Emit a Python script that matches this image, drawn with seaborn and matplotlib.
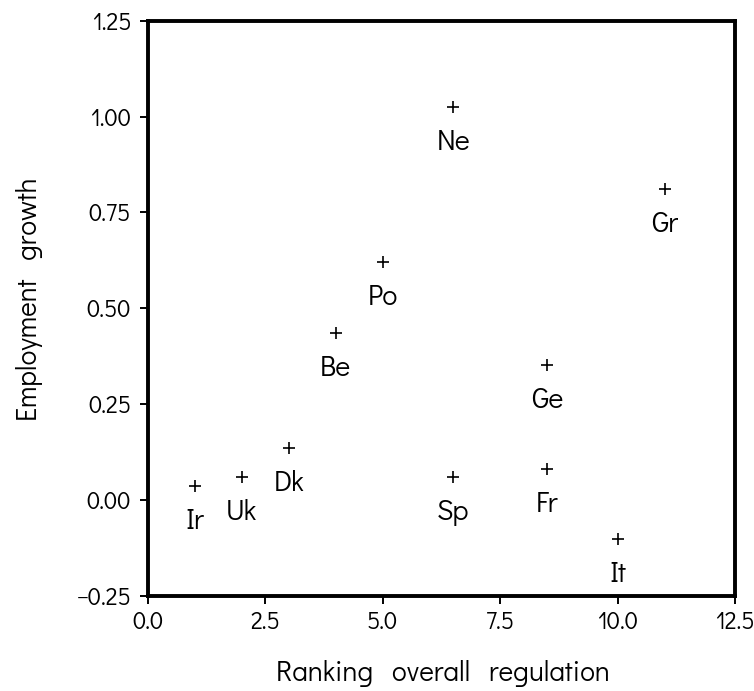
import matplotlib
matplotlib.use("Agg")
import matplotlib.pyplot as plt
import seaborn as sns
import pandas as pd

# data
countries = ["Ir", "Uk", "Dk", "Be", "Po", "Ne", "Sp", "Ge", "Fr", "It", "Gr"]
ranking = [1, 2, 3, 4, 5, 6.5, 6.5, 8.5, 8.5, 10, 11]
growth = [0.037, 0.061, 0.136, 0.437, 0.621, 1.026, 0.061, 0.353, 0.082, -0.101, 0.812]
x_ticks = [0.0, 2.5, 5.0, 7.5, 10.0, 12.5]
y_ticks = [-0.25, 0.00, 0.25, 0.50, 0.75, 1.00, 1.25]

sns.set_theme(style="white")
plt.rcParams["font.family"] = ["Didact Gothic", "DejaVu Sans"]
plt.rcParams["text.color"] = "black"
plt.rcParams["axes.labelcolor"] = "black"
plt.rcParams["xtick.color"] = "black"
plt.rcParams["ytick.color"] = "black"

df = pd.DataFrame({"country": countries, "ranking": ranking, "growth": growth})

fig = plt.figure(figsize=(7.54, 6.91), dpi=100)
ax = fig.add_axes([0.196, 0.1375, 0.779, 0.8325])

sns.scatterplot(data=df, x="ranking", y="growth", marker="+", s=80,
                color="black", linewidth=1.2, ax=ax, zorder=3)

for _, r in df.iterrows():
    ax.annotate(r.country, (r.ranking, r.growth), xytext=(0, -36),
                textcoords="offset pixels", ha="center", va="center",
                fontsize=20.5, color="black")

ax.set_xlim(0, 12.5)
ax.set_ylim(-0.25, 1.25)
ax.set_xticks(x_ticks)
ax.set_xticklabels([f"{v:.1f}" for v in x_ticks])
ax.set_yticks(y_ticks)
ax.set_yticklabels([f"{v:.2f}".replace("-", "\u2212") for v in y_ticks])
ax.tick_params(axis="both", direction="out", length=6, width=1.4,
               labelsize=17, bottom=True, left=True)
ax.tick_params(axis="x", pad=5)
ax.tick_params(axis="y", pad=6)

for s in ax.spines.values():
    s.set_color("black")
    s.set_linewidth(2.8)

ax.set_xlabel("Ranking   overall   regulation", fontsize=20, va="center")
ax.set_ylabel("Employment   growth", fontsize=20, va="center")
ax.xaxis.set_label_coords(0.503, -0.134)
ax.yaxis.set_label_coords(-0.201, 0.515)

fig.savefig("out.png", dpi=100)
